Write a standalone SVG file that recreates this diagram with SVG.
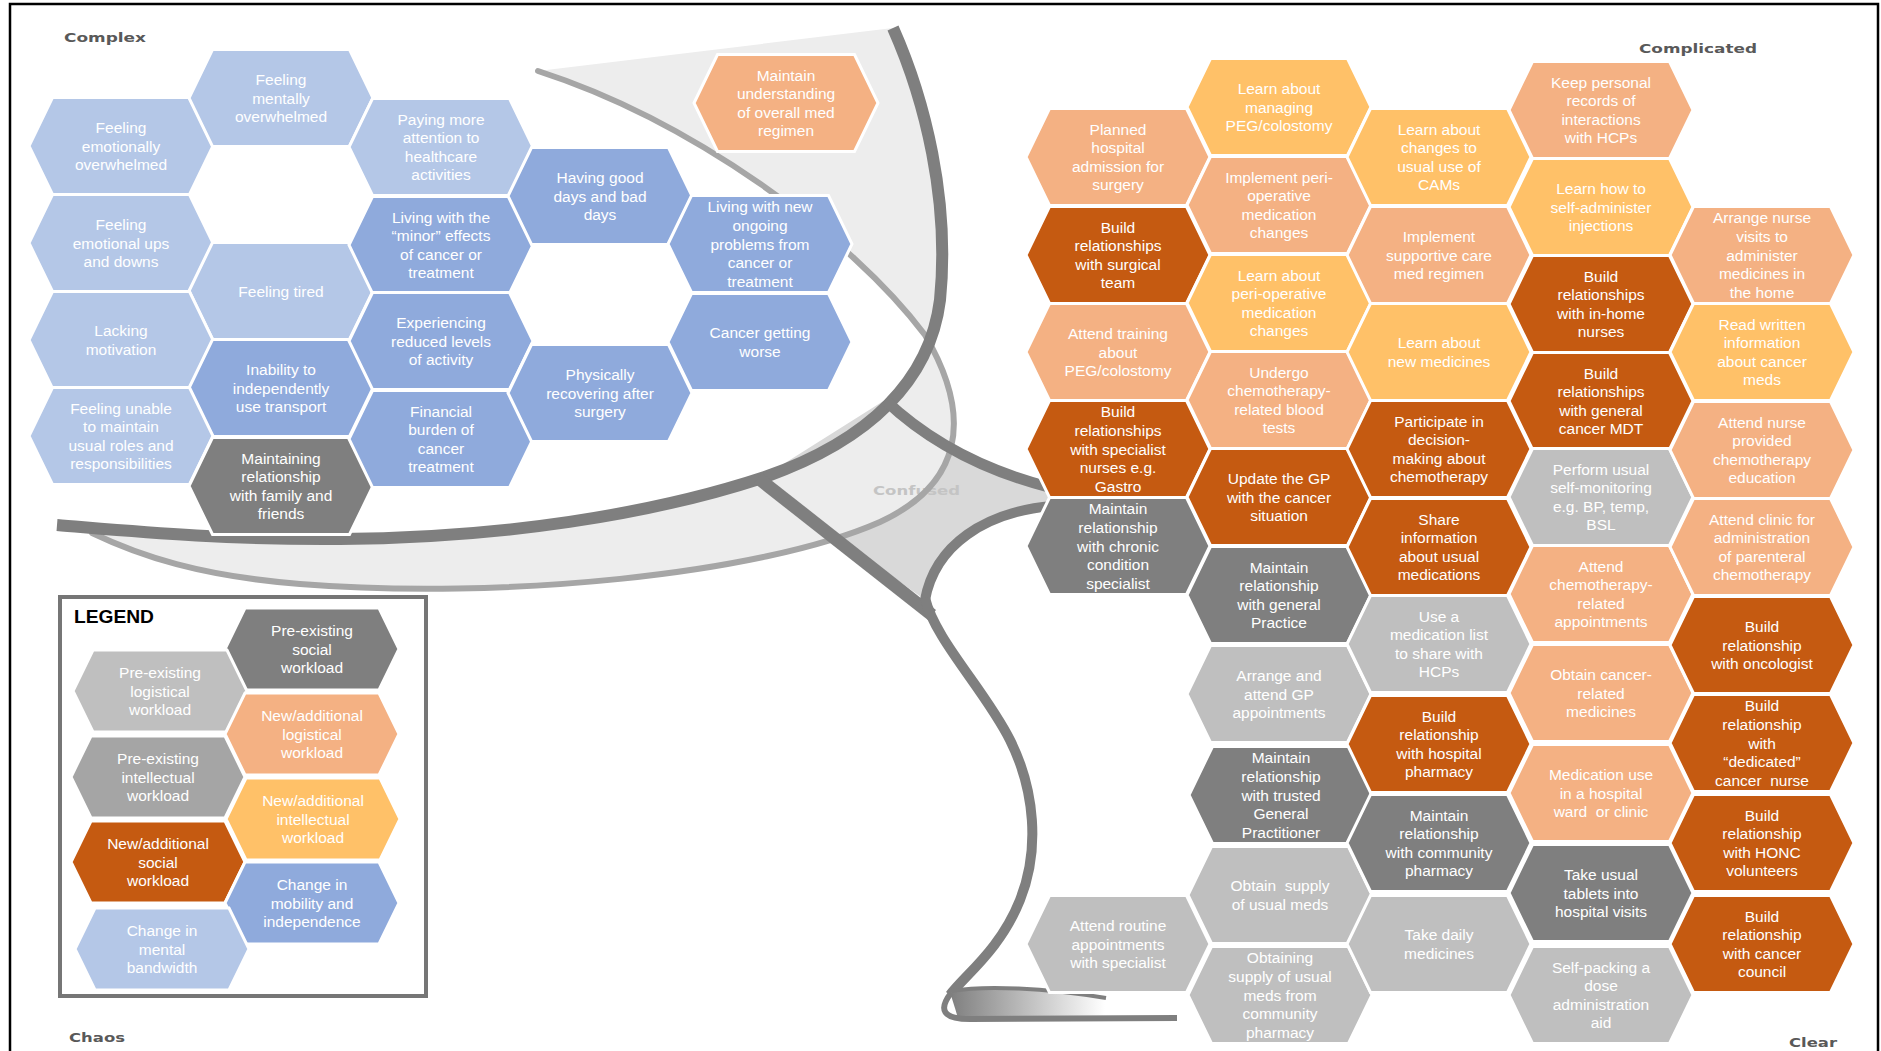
<svg xmlns="http://www.w3.org/2000/svg" width="1881" height="1051" viewBox="0 0 1881 1051">
<defs>
<style>
.h{stroke:#fff;stroke-width:3;stroke-linejoin:miter}
.s{fill:#C55A11}.l{fill:#F4B183}.i{fill:#FFC168}.ps{fill:#7F7F7F}.pl{fill:#BFBFBF}.pi{fill:#A5A5A5}.b1{fill:#B4C7E7}.b2{fill:#8FAADC}
.t{font-family:"Liberation Sans",Arial,sans-serif;font-size:15.5px;fill:#fff;text-anchor:middle}
.zone{font-family:"DejaVu Sans",Verdana,sans-serif;font-weight:bold;font-size:12.5px;fill:#595959}
.dk{fill:none;stroke:#7F7F7F;stroke-linecap:butt}
.md{fill:none;stroke:#A6A6A6;stroke-width:6;stroke-linecap:round}
</style>
<polygon id="hx" points="-92,0 -68.5,-48.5 68.5,-48.5 92,0 68.5,48.5 -68.5,48.5"/>
<polygon id="lhx" points="-87,0 -67,-41 67,-41 87,0 67,41 -67,41"/>
<linearGradient id="curl" x1="0" y1="0" x2="1" y2="0">
<stop offset="0" stop-color="#7F7F7F"/><stop offset="1" stop-color="#FFFFFF"/>
</linearGradient>
</defs>

<rect width="1881" height="1051" fill="#fff"/>
<rect x="10" y="4" width="1868" height="1070" fill="none" stroke="#000" stroke-width="2.5"/>

<!-- domain labels -->
<g id="domain-labels">
<text class="zone" x="64" y="42" textLength="82" lengthAdjust="spacingAndGlyphs">Complex</text>
<text class="zone" x="1639" y="53" textLength="118" lengthAdjust="spacingAndGlyphs">Complicated</text>
<text class="zone" x="69" y="1042" textLength="56" lengthAdjust="spacingAndGlyphs">Chaos</text>
<text class="zone" x="1789" y="1047" textLength="48" lengthAdjust="spacingAndGlyphs">Clear</text>
</g>

<!-- framework shape: bowl, confused centre and cliff -->
<g id="connectors">
<path id="confused-area" d="M885,400 C950,452 1000,478 1050,484 L1050,510 C985,514 940,545 928,602 L758,480 Z" fill="#D9D9D9"/>
<path id="bowl-fill" fill="#EDEDED" d="M538,71 L893,28 C925,100 950,200 940,300 C930,380 870,440 765,477 C650,515 500,538 340,539 C220,540 120,530 57,525 L92,533 C140,556 200,576 300,584 C500,600 760,575 880,522 C960,485 975,420 925,335 C850,235 690,120 538,71 Z"/>
<text x="873" y="495" textLength="87" lengthAdjust="spacingAndGlyphs" style="font-family:'DejaVu Sans',Verdana,sans-serif;font-weight:bold;font-size:12.5px;fill:#C4C4C4">Confused</text>
<path class="md" d="M538,71 C690,120 850,235 925,335 C975,420 960,485 880,522 C760,575 500,600 300,584 C200,576 140,556 92,533"/>
<path class="dk" stroke-width="12" d="M893,28 C925,100 950,200 940,300 C930,380 870,440 765,477 C650,515 500,538 340,539 C220,540 120,530 57,525"/>
<path class="dk" stroke-width="11" d="M885,400 Q950,462 1052,488"/>
<path class="dk" stroke-width="10" d="M1052,506 C985,512 935,545 925,600"/>
<path class="dk" stroke-width="13" d="M758,478 L932,615"/>
<path class="dk" stroke-width="10" d="M925,598 C935,640 985,690 1010,740 C1035,790 1040,850 1020,900 C1000,950 965,975 950,995"/>
<path d="M950,992 C985,985 1045,988 1105,998 L1105,1016 L958,1018 Z" fill="url(#curl)"/>
<path class="dk" stroke-width="4" d="M952,991 C985,985 1045,988 1106,998"/>
<path class="dk" stroke-width="6" d="M951,993 C938,1010 943,1019 970,1019 L1177,1018"/>
</g>

<!-- legend -->
<g id="legend">
<rect x="60" y="597" width="366" height="399" fill="#fff" stroke="#767676" stroke-width="4"/>
<text x="74" y="623" textLength="80" lengthAdjust="spacingAndGlyphs" style="font-family:'Liberation Sans',Arial,sans-serif;font-weight:bold;font-size:19px;fill:#000">LEGEND</text>
<g id="lg-pre-social" transform="translate(312,649)"><use href="#lhx" class="h ps"/><text class="t"><tspan x="0" y="-13.1">Pre-existing</tspan><tspan x="0" y="5.5">social</tspan><tspan x="0" y="24.1">workload</tspan></text></g>
<g id="lg-pre-logistical" transform="translate(160,691)"><use href="#lhx" class="h pl"/><text class="t"><tspan x="0" y="-13.1">Pre-existing</tspan><tspan x="0" y="5.5">logistical</tspan><tspan x="0" y="24.1">workload</tspan></text></g>
<g id="lg-new-logistical" transform="translate(312,734)"><use href="#lhx" class="h l"/><text class="t"><tspan x="0" y="-13.1">New/additional</tspan><tspan x="0" y="5.5">logistical</tspan><tspan x="0" y="24.1">workload</tspan></text></g>
<g id="lg-pre-intellectual" transform="translate(158,777)"><use href="#lhx" class="h pi"/><text class="t"><tspan x="0" y="-13.1">Pre-existing</tspan><tspan x="0" y="5.5">intellectual</tspan><tspan x="0" y="24.1">workload</tspan></text></g>
<g id="lg-new-intellectual" transform="translate(313,819)"><use href="#lhx" class="h i"/><text class="t"><tspan x="0" y="-13.1">New/additional</tspan><tspan x="0" y="5.5">intellectual</tspan><tspan x="0" y="24.1">workload</tspan></text></g>
<g id="lg-new-social" transform="translate(158,862)"><use href="#lhx" class="h s"/><text class="t"><tspan x="0" y="-13.1">New/additional</tspan><tspan x="0" y="5.5">social</tspan><tspan x="0" y="24.1">workload</tspan></text></g>
<g id="lg-mobility" transform="translate(312,903)"><use href="#lhx" class="h b2"/><text class="t"><tspan x="0" y="-13.1">Change in</tspan><tspan x="0" y="5.5">mobility and</tspan><tspan x="0" y="24.1">independence</tspan></text></g>
<g id="lg-bandwidth" transform="translate(162,949)"><use href="#lhx" class="h b1"/><text class="t"><tspan x="0" y="-13.1">Change in</tspan><tspan x="0" y="5.5">mental</tspan><tspan x="0" y="24.1">bandwidth</tspan></text></g>
</g>

<!-- complex domain -->
<g id="complex-nodes">
<g id="emotionally-overwhelmed" transform="translate(121,146)"><use href="#hx" class="h b1"/><text class="t"><tspan x="0" y="-13.1">Feeling</tspan><tspan x="0" y="5.5">emotionally</tspan><tspan x="0" y="24.1">overwhelmed</tspan></text></g>
<g id="mentally-overwhelmed" transform="translate(281,98)"><use href="#hx" class="h b1"/><text class="t"><tspan x="0" y="-13.1">Feeling</tspan><tspan x="0" y="5.5">mentally</tspan><tspan x="0" y="24.1">overwhelmed</tspan></text></g>
<g id="paying-attention" transform="translate(441,147)"><use href="#hx" class="h b1"/><text class="t"><tspan x="0" y="-22.4">Paying more</tspan><tspan x="0" y="-3.8">attention to</tspan><tspan x="0" y="14.8">healthcare</tspan><tspan x="0" y="33.4">activities</tspan></text></g>
<g id="ups-downs" transform="translate(121,243)"><use href="#hx" class="h b1"/><text class="t"><tspan x="0" y="-13.1">Feeling</tspan><tspan x="0" y="5.5">emotional ups</tspan><tspan x="0" y="24.1">and downs</tspan></text></g>
<g id="feeling-tired" transform="translate(281,291)"><use href="#hx" class="h b1"/><text class="t"><tspan x="0" y="5.5">Feeling tired</tspan></text></g>
<g id="minor-effects" transform="translate(441,245)"><use href="#hx" class="h b2"/><text class="t"><tspan x="0" y="-22.4">Living with the</tspan><tspan x="0" y="-3.8">“minor” effects</tspan><tspan x="0" y="14.8">of cancer or</tspan><tspan x="0" y="33.4">treatment</tspan></text></g>
<g id="lacking-motivation" transform="translate(121,340)"><use href="#hx" class="h b1"/><text class="t"><tspan x="0" y="-3.8">Lacking</tspan><tspan x="0" y="14.8">motivation</tspan></text></g>
<g id="transport" transform="translate(281,388)"><use href="#hx" class="h b2"/><text class="t"><tspan x="0" y="-13.1">Inability to</tspan><tspan x="0" y="5.5">independently</tspan><tspan x="0" y="24.1">use transport</tspan></text></g>
<g id="reduced-activity" transform="translate(441,341)"><use href="#hx" class="h b2"/><text class="t"><tspan x="0" y="-13.1">Experiencing</tspan><tspan x="0" y="5.5">reduced levels</tspan><tspan x="0" y="24.1">of activity</tspan></text></g>
<g id="usual-roles" transform="translate(121,436)"><use href="#hx" class="h b1"/><text class="t"><tspan x="0" y="-22.4">Feeling unable</tspan><tspan x="0" y="-3.8">to maintain</tspan><tspan x="0" y="14.8">usual roles and</tspan><tspan x="0" y="33.4">responsibilities</tspan></text></g>
<g id="family-friends" transform="translate(281,486)"><use href="#hx" class="h ps"/><text class="t"><tspan x="0" y="-22.4">Maintaining</tspan><tspan x="0" y="-3.8">relationship</tspan><tspan x="0" y="14.8">with family and</tspan><tspan x="0" y="33.4">friends</tspan></text></g>
<g id="financial-burden" transform="translate(441,439)"><use href="#hx" class="h b2"/><text class="t"><tspan x="0" y="-22.4">Financial</tspan><tspan x="0" y="-3.8">burden of</tspan><tspan x="0" y="14.8">cancer</tspan><tspan x="0" y="33.4">treatment</tspan></text></g>
<g id="good-bad-days" transform="translate(600,196)"><use href="#hx" class="h b2"/><text class="t"><tspan x="0" y="-13.1">Having good</tspan><tspan x="0" y="5.5">days and bad</tspan><tspan x="0" y="24.1">days</tspan></text></g>
<g id="recovering-surgery" transform="translate(600,393)"><use href="#hx" class="h b2"/><text class="t"><tspan x="0" y="-13.1">Physically</tspan><tspan x="0" y="5.5">recovering after</tspan><tspan x="0" y="24.1">surgery</tspan></text></g>
<g id="new-problems" transform="translate(760,244)"><use href="#hx" class="h b2"/><text class="t"><tspan x="0" y="-31.7">Living with new</tspan><tspan x="0" y="-13.1">ongoing</tspan><tspan x="0" y="5.5">problems from</tspan><tspan x="0" y="24.1">cancer or</tspan><tspan x="0" y="42.7">treatment</tspan></text></g>
<g id="cancer-worse" transform="translate(760,342)"><use href="#hx" class="h b2"/><text class="t"><tspan x="0" y="-3.8">Cancer getting</tspan><tspan x="0" y="14.8">worse</tspan></text></g>
<g id="overall-regimen" transform="translate(786,103)"><use href="#hx" class="h l"/><text class="t"><tspan x="0" y="-22.4">Maintain</tspan><tspan x="0" y="-3.8">understanding</tspan><tspan x="0" y="14.8">of overall med</tspan><tspan x="0" y="33.4">regimen</tspan></text></g>
</g>

<!-- complicated / clear domains -->
<g id="complicated-nodes">
<g id="planned-admission" transform="translate(1118,157)"><use href="#hx" class="h l"/><text class="t"><tspan x="0" y="-22.4">Planned</tspan><tspan x="0" y="-3.8">hospital</tspan><tspan x="0" y="14.8">admission for</tspan><tspan x="0" y="33.4">surgery</tspan></text></g>
<g id="surgical-team" transform="translate(1118,255)"><use href="#hx" class="h s"/><text class="t"><tspan x="0" y="-22.4">Build</tspan><tspan x="0" y="-3.8">relationships</tspan><tspan x="0" y="14.8">with surgical</tspan><tspan x="0" y="33.4">team</tspan></text></g>
<g id="peg-training" transform="translate(1118,352)"><use href="#hx" class="h l"/><text class="t"><tspan x="0" y="-13.1">Attend training</tspan><tspan x="0" y="5.5">about</tspan><tspan x="0" y="24.1">PEG/colostomy</tspan></text></g>
<g id="specialist-nurses" transform="translate(1118,449)"><use href="#hx" class="h s"/><text class="t"><tspan x="0" y="-31.7">Build</tspan><tspan x="0" y="-13.1">relationships</tspan><tspan x="0" y="5.5">with specialist</tspan><tspan x="0" y="24.1">nurses e.g.</tspan><tspan x="0" y="42.7">Gastro</tspan></text></g>
<g id="chronic-specialist" transform="translate(1118,546)"><use href="#hx" class="h ps"/><text class="t"><tspan x="0" y="-31.7">Maintain</tspan><tspan x="0" y="-13.1">relationship</tspan><tspan x="0" y="5.5">with chronic</tspan><tspan x="0" y="24.1">condition</tspan><tspan x="0" y="42.7">specialist</tspan></text></g>
<g id="routine-appointments" transform="translate(1118,944)"><use href="#hx" class="h pl"/><text class="t"><tspan x="0" y="-13.1">Attend routine</tspan><tspan x="0" y="5.5">appointments</tspan><tspan x="0" y="24.1">with specialist</tspan></text></g>

<g id="managing-peg" transform="translate(1279,107)"><use href="#hx" class="h i"/><text class="t"><tspan x="0" y="-13.1">Learn about</tspan><tspan x="0" y="5.5">managing</tspan><tspan x="0" y="24.1">PEG/colostomy</tspan></text></g>
<g id="implement-periop" transform="translate(1279,205)"><use href="#hx" class="h l"/><text class="t"><tspan x="0" y="-22.4">Implement peri-</tspan><tspan x="0" y="-3.8">operative</tspan><tspan x="0" y="14.8">medication</tspan><tspan x="0" y="33.4">changes</tspan></text></g>
<g id="learn-periop" transform="translate(1279,303)"><use href="#hx" class="h i"/><text class="t"><tspan x="0" y="-22.4">Learn about</tspan><tspan x="0" y="-3.8">peri-operative</tspan><tspan x="0" y="14.8">medication</tspan><tspan x="0" y="33.4">changes</tspan></text></g>
<g id="blood-tests" transform="translate(1279,400)"><use href="#hx" class="h l"/><text class="t"><tspan x="0" y="-22.4">Undergo</tspan><tspan x="0" y="-3.8">chemotherapy-</tspan><tspan x="0" y="14.8">related blood</tspan><tspan x="0" y="33.4">tests</tspan></text></g>
<g id="update-gp" transform="translate(1279,497)"><use href="#hx" class="h s"/><text class="t"><tspan x="0" y="-13.1">Update the GP</tspan><tspan x="0" y="5.5">with the cancer</tspan><tspan x="0" y="24.1">situation</tspan></text></g>
<g id="general-practice" transform="translate(1279,595)"><use href="#hx" class="h ps"/><text class="t"><tspan x="0" y="-22.4">Maintain</tspan><tspan x="0" y="-3.8">relationship</tspan><tspan x="0" y="14.8">with general</tspan><tspan x="0" y="33.4">Practice</tspan></text></g>
<g id="gp-appointments" transform="translate(1279,694)"><use href="#hx" class="h pl"/><text class="t"><tspan x="0" y="-13.1">Arrange and</tspan><tspan x="0" y="5.5">attend GP</tspan><tspan x="0" y="24.1">appointments</tspan></text></g>
<g id="trusted-gp" transform="translate(1281,795)"><use href="#hx" class="h ps"/><text class="t"><tspan x="0" y="-31.7">Maintain</tspan><tspan x="0" y="-13.1">relationship</tspan><tspan x="0" y="5.5">with trusted</tspan><tspan x="0" y="24.1">General</tspan><tspan x="0" y="42.7">Practitioner</tspan></text></g>
<g id="usual-supply" transform="translate(1280,895)"><use href="#hx" class="h pl"/><text class="t" xml:space="preserve"><tspan x="0" y="-3.8">Obtain  supply</tspan><tspan x="0" y="14.8">of usual meds</tspan></text></g>
<g id="community-supply" transform="translate(1280,995)"><use href="#hx" class="h pl"/><text class="t"><tspan x="0" y="-31.7">Obtaining</tspan><tspan x="0" y="-13.1">supply of usual</tspan><tspan x="0" y="5.5">meds from</tspan><tspan x="0" y="24.1">community</tspan><tspan x="0" y="42.7">pharmacy</tspan></text></g>

<g id="cams" transform="translate(1439,157)"><use href="#hx" class="h i"/><text class="t"><tspan x="0" y="-22.4">Learn about</tspan><tspan x="0" y="-3.8">changes to</tspan><tspan x="0" y="14.8">usual use of</tspan><tspan x="0" y="33.4">CAMs</tspan></text></g>
<g id="supportive-care" transform="translate(1439,255)"><use href="#hx" class="h l"/><text class="t"><tspan x="0" y="-13.1">Implement</tspan><tspan x="0" y="5.5">supportive care</tspan><tspan x="0" y="24.1">med regimen</tspan></text></g>
<g id="new-medicines" transform="translate(1439,352)"><use href="#hx" class="h i"/><text class="t"><tspan x="0" y="-3.8">Learn about</tspan><tspan x="0" y="14.8">new medicines</tspan></text></g>
<g id="decision-making" transform="translate(1439,449)"><use href="#hx" class="h s"/><text class="t"><tspan x="0" y="-22.4">Participate in</tspan><tspan x="0" y="-3.8">decision-</tspan><tspan x="0" y="14.8">making about</tspan><tspan x="0" y="33.4">chemotherapy</tspan></text></g>
<g id="share-information" transform="translate(1439,547)"><use href="#hx" class="h s"/><text class="t"><tspan x="0" y="-22.4">Share</tspan><tspan x="0" y="-3.8">information</tspan><tspan x="0" y="14.8">about usual</tspan><tspan x="0" y="33.4">medications</tspan></text></g>
<g id="medication-list" transform="translate(1439,644)"><use href="#hx" class="h pl"/><text class="t"><tspan x="0" y="-22.4">Use a</tspan><tspan x="0" y="-3.8">medication list</tspan><tspan x="0" y="14.8">to share with</tspan><tspan x="0" y="33.4">HCPs</tspan></text></g>
<g id="hospital-pharmacy" transform="translate(1439,744)"><use href="#hx" class="h s"/><text class="t"><tspan x="0" y="-22.4">Build</tspan><tspan x="0" y="-3.8">relationship</tspan><tspan x="0" y="14.8">with hospital</tspan><tspan x="0" y="33.4">pharmacy</tspan></text></g>
<g id="community-pharmacy" transform="translate(1439,843)"><use href="#hx" class="h ps"/><text class="t"><tspan x="0" y="-22.4">Maintain</tspan><tspan x="0" y="-3.8">relationship</tspan><tspan x="0" y="14.8">with community</tspan><tspan x="0" y="33.4">pharmacy</tspan></text></g>
<g id="daily-medicines" transform="translate(1439,944)"><use href="#hx" class="h pl"/><text class="t"><tspan x="0" y="-3.8">Take daily</tspan><tspan x="0" y="14.8">medicines</tspan></text></g>

<g id="personal-records" transform="translate(1601,110)"><use href="#hx" class="h l"/><text class="t"><tspan x="0" y="-22.4">Keep personal</tspan><tspan x="0" y="-3.8">records of</tspan><tspan x="0" y="14.8">interactions</tspan><tspan x="0" y="33.4">with HCPs</tspan></text></g>
<g id="self-injection" transform="translate(1601,207)"><use href="#hx" class="h i"/><text class="t"><tspan x="0" y="-13.1">Learn how to</tspan><tspan x="0" y="5.5">self-administer</tspan><tspan x="0" y="24.1">injections</tspan></text></g>
<g id="in-home-nurses" transform="translate(1601,304)"><use href="#hx" class="h s"/><text class="t"><tspan x="0" y="-22.4">Build</tspan><tspan x="0" y="-3.8">relationships</tspan><tspan x="0" y="14.8">with in-home</tspan><tspan x="0" y="33.4">nurses</tspan></text></g>
<g id="cancer-mdt" transform="translate(1601,401)"><use href="#hx" class="h s"/><text class="t"><tspan x="0" y="-22.4">Build</tspan><tspan x="0" y="-3.8">relationships</tspan><tspan x="0" y="14.8">with general</tspan><tspan x="0" y="33.4">cancer MDT</tspan></text></g>
<g id="self-monitoring" transform="translate(1601,497)"><use href="#hx" class="h pl"/><text class="t"><tspan x="0" y="-22.4">Perform usual</tspan><tspan x="0" y="-3.8">self-monitoring</tspan><tspan x="0" y="14.8">e.g. BP, temp,</tspan><tspan x="0" y="33.4">BSL</tspan></text></g>
<g id="chemo-appointments" transform="translate(1601,594)"><use href="#hx" class="h l"/><text class="t"><tspan x="0" y="-22.4">Attend</tspan><tspan x="0" y="-3.8">chemotherapy-</tspan><tspan x="0" y="14.8">related</tspan><tspan x="0" y="33.4">appointments</tspan></text></g>
<g id="cancer-medicines" transform="translate(1601,693)"><use href="#hx" class="h l"/><text class="t"><tspan x="0" y="-13.1">Obtain cancer-</tspan><tspan x="0" y="5.5">related</tspan><tspan x="0" y="24.1">medicines</tspan></text></g>
<g id="ward-use" transform="translate(1601,793)"><use href="#hx" class="h l"/><text class="t" xml:space="preserve"><tspan x="0" y="-13.1">Medication use</tspan><tspan x="0" y="5.5">in a hospital</tspan><tspan x="0" y="24.1">ward  or clinic</tspan></text></g>
<g id="tablets-visits" transform="translate(1601,893)"><use href="#hx" class="h ps"/><text class="t"><tspan x="0" y="-13.1">Take usual</tspan><tspan x="0" y="5.5">tablets into</tspan><tspan x="0" y="24.1">hospital visits</tspan></text></g>
<g id="dose-aid" transform="translate(1601,995)"><use href="#hx" class="h pl"/><text class="t"><tspan x="0" y="-22.4">Self-packing a</tspan><tspan x="0" y="-3.8">dose</tspan><tspan x="0" y="14.8">administration</tspan><tspan x="0" y="33.4">aid</tspan></text></g>

<g id="nurse-visits" transform="translate(1762,255)"><use href="#hx" class="h l"/><text class="t"><tspan x="0" y="-31.7">Arrange nurse</tspan><tspan x="0" y="-13.1">visits to</tspan><tspan x="0" y="5.5">administer</tspan><tspan x="0" y="24.1">medicines in</tspan><tspan x="0" y="42.7">the home</tspan></text></g>
<g id="written-info" transform="translate(1762,352)"><use href="#hx" class="h i"/><text class="t"><tspan x="0" y="-22.4">Read written</tspan><tspan x="0" y="-3.8">information</tspan><tspan x="0" y="14.8">about cancer</tspan><tspan x="0" y="33.4">meds</tspan></text></g>
<g id="chemo-education" transform="translate(1762,450)"><use href="#hx" class="h l"/><text class="t"><tspan x="0" y="-22.4">Attend nurse</tspan><tspan x="0" y="-3.8">provided</tspan><tspan x="0" y="14.8">chemotherapy</tspan><tspan x="0" y="33.4">education</tspan></text></g>
<g id="parenteral-chemo" transform="translate(1762,547)"><use href="#hx" class="h l"/><text class="t"><tspan x="0" y="-22.4">Attend clinic for</tspan><tspan x="0" y="-3.8">administration</tspan><tspan x="0" y="14.8">of parenteral</tspan><tspan x="0" y="33.4">chemotherapy</tspan></text></g>
<g id="oncologist" transform="translate(1762,645)"><use href="#hx" class="h s"/><text class="t"><tspan x="0" y="-13.1">Build</tspan><tspan x="0" y="5.5">relationship</tspan><tspan x="0" y="24.1">with oncologist</tspan></text></g>
<g id="dedicated-nurse" transform="translate(1762,743)"><use href="#hx" class="h s"/><text class="t" xml:space="preserve"><tspan x="0" y="-31.7">Build</tspan><tspan x="0" y="-13.1">relationship</tspan><tspan x="0" y="5.5">with</tspan><tspan x="0" y="24.1">“dedicated”</tspan><tspan x="0" y="42.7">cancer  nurse</tspan></text></g>
<g id="honc-volunteers" transform="translate(1762,843)"><use href="#hx" class="h s"/><text class="t"><tspan x="0" y="-22.4">Build</tspan><tspan x="0" y="-3.8">relationship</tspan><tspan x="0" y="14.8">with HONC</tspan><tspan x="0" y="33.4">volunteers</tspan></text></g>
<g id="cancer-council" transform="translate(1762,944)"><use href="#hx" class="h s"/><text class="t"><tspan x="0" y="-22.4">Build</tspan><tspan x="0" y="-3.8">relationship</tspan><tspan x="0" y="14.8">with cancer</tspan><tspan x="0" y="33.4">council</tspan></text></g>
</g>
</svg>
